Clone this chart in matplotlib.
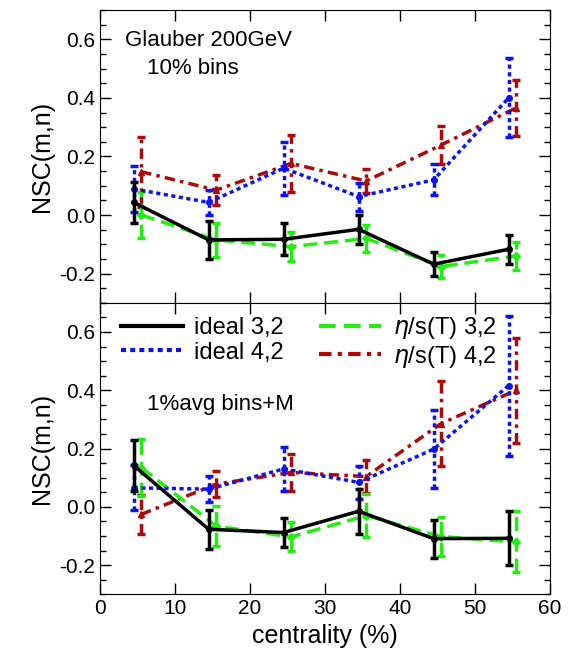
import numpy as np
import matplotlib.pyplot as plt
from matplotlib.lines import Line2D

plt.rcParams["font.family"] = "Liberation Sans"
plt.rcParams["font.size"] = 15
plt.rcParams['mathtext.default'] = 'it'

x_a = np.array([4.5, 14.5, 24.5, 34.5, 44.5, 54.5])
x_b = x_a + 1.0

# top panel: Glauber 200GeV, 10% bins
top_ideal32 = [0.043, -0.085, -0.083, -0.049, -0.168, -0.117]
top_ideal32_err = [0.07, 0.065, 0.055, 0.05, 0.04, 0.05]
top_eta32 = [0.0, -0.085, -0.108, -0.08, -0.176, -0.14]
top_eta32_err = [0.077, 0.058, 0.05, 0.045, 0.04, 0.048]
top_ideal42 = [0.089, 0.043, 0.16, 0.063, 0.12, 0.40]
top_ideal42_err = [0.078, 0.043, 0.09, 0.048, 0.053, 0.135]
top_eta42 = [0.148, 0.085, 0.176, 0.116, 0.239, 0.366]
top_eta42_err = [0.12, 0.05, 0.097, 0.04, 0.064, 0.095]

# bottom panel: 1%avg bins+M
bot_ideal32 = [0.142, -0.077, -0.088, -0.015, -0.109, -0.108]
bot_ideal32_err = [0.088, 0.066, 0.05, 0.077, 0.065, 0.093]
bot_eta32 = [0.135, -0.066, -0.103, -0.03, -0.102, -0.12]
bot_eta32_err = [0.097, 0.07, 0.05, 0.073, 0.066, 0.105]
bot_ideal42 = [0.065, 0.061, 0.13, 0.084, 0.198, 0.416]
bot_ideal42_err = [0.077, 0.045, 0.077, 0.057, 0.133, 0.24]
bot_eta42 = [-0.026, 0.078, 0.118, 0.104, 0.286, 0.40]
bot_eta42_err = [0.066, 0.045, 0.062, 0.057, 0.146, 0.18]

names = ['ideal 3,2', 'ideal 4,2', r'$\eta$/s(T) 3,2', r'$\eta$/s(T) 4,2']
colors = ['k', '#0a14f0', '#22ee11', '#aa0a0a']
styles = ['-', (0, (1.2, 1.0)), (0, (4, 2)), (0, (3, 1.5, 1, 1.5))]
markers = ['o', 'o', 'D', '^']

fig = plt.figure(figsize=(5.71, 6.70), dpi=100)
ax1 = fig.add_axes([0.175, 0.548, 0.788, 0.437])
ax2 = fig.add_axes([0.175, 0.113, 0.788, 0.435])

def draw(ax, series):
    for k, (xs, ys, es) in enumerate(series):
        eb = ax.errorbar(xs, ys, yerr=es, color=colors[k], lw=2.5, ls=styles[k],
                         marker=markers[k], ms=4, capsize=3, capthick=2.5,
                         elinewidth=2.5, zorder=4 - k if k else 5)
        eb[2][0].set_linestyle(styles[k])
    ax.set_xlim(0, 60)
    ax.set_ylim(-0.3, 0.7)
    ax.set_yticks([-0.2, 0.0, 0.2, 0.4, 0.6])
    ax.set_yticklabels(['-0.2', '0.0', '0.2', '0.4', '0.6'])
    ax.set_yticks(np.arange(-0.3, 0.71, 0.05), minor=True)
    ax.set_xticks([0, 10, 20, 30, 40, 50, 60])
    ax.tick_params(direction='in', top=True, right=True, length=8, width=1)
    ax.tick_params(which='minor', direction='in', right=True, length=4, width=1)
    ax.set_ylabel('NSC(m,n)', fontsize=18)

draw(ax1, [(x_a, top_ideal32, top_ideal32_err), (x_a, top_ideal42, top_ideal42_err),
           (x_b, top_eta32, top_eta32_err), (x_b, top_eta42, top_eta42_err)])
draw(ax2, [(x_a, bot_ideal32, bot_ideal32_err), (x_a, bot_ideal42, bot_ideal42_err),
           (x_b, bot_eta32, bot_eta32_err), (x_b, bot_eta42, bot_eta42_err)])

ax1.set_xticklabels([])
ax1.text(0.055, 0.895, 'Glauber 200GeV', transform=ax1.transAxes, fontsize=16, va='center')
ax1.text(0.105, 0.80, '10% bins', transform=ax1.transAxes, fontsize=16, va='center')
ax2.text(0.105, 0.65, '1%avg bins+M', transform=ax2.transAxes, fontsize=16, va='center')
ax2.set_xlabel('centrality (%)', fontsize=18)

handles = [Line2D([], [], color=colors[k], lw=3, ls=styles[k]) for k in range(4)]
ax2.legend(handles, names, ncol=2, loc='upper left', bbox_to_anchor=(0.0, 1.03),
           frameon=False, fontsize=17, handlelength=2.6, columnspacing=1.5,
           labelspacing=0.1, handletextpad=0.5)

fig.savefig('out.png', dpi=100)
